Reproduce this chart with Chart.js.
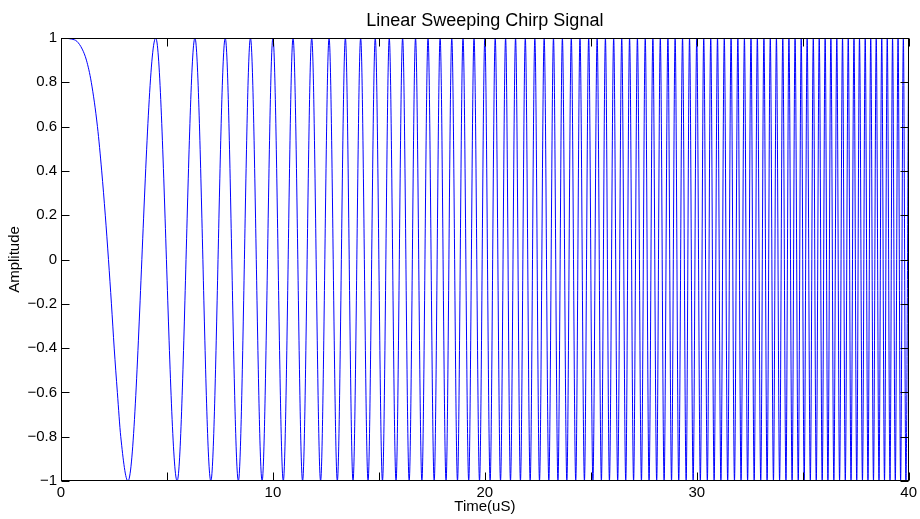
<!DOCTYPE html>
<html>
<head>
<meta charset="utf-8">
<title>Linear Sweeping Chirp Signal</title>
<script src="https://cdn.jsdelivr.net/npm/chart.js@4.4.1/dist/chart.umd.min.js"></script>
<style>
  html, body { margin: 0; padding: 0; background: #ffffff; }
  #wrap { width: 920px; height: 519px; }
</style>
</head>
<body>
<div id="wrap"><canvas id="chirp" width="920" height="519"></canvas></div>
<script>
// Sample times (µs): the slow first lobe is sampled at several levels,
// after that every crest and trough of the sweep is listed.
const sampleTimes = [
  0.00, 0.50, 0.75, 1.00, 1.20, 1.43, 1.72, 1.92, 2.09, 2.24, 2.38, 2.51, 2.66, 2.82,
  3.16, 4.47, 5.48, 6.32, 7.07, 7.75, 8.37, 8.94, 9.49,
  10.00, 10.49, 10.95, 11.40, 11.83, 12.25, 12.65, 13.04, 13.42, 13.78,
  14.14, 14.49, 14.83, 15.17, 15.49, 15.81, 16.12, 16.43, 16.73, 17.03,
  17.32, 17.61, 17.89, 18.17, 18.44, 18.71, 18.97, 19.24, 19.49, 19.75,
  20.00, 20.25, 20.49, 20.74, 20.98, 21.21, 21.45, 21.68, 21.91, 22.14,
  22.36, 22.58, 22.80, 23.02, 23.24, 23.45, 23.66, 23.87, 24.08, 24.29,
  24.49, 24.70, 24.90, 25.10, 25.30, 25.50, 25.69, 25.88, 26.08, 26.27,
  26.46, 26.65, 26.83, 27.02, 27.20, 27.39, 27.57, 27.75, 27.93, 28.11,
  28.28, 28.46, 28.64, 28.81, 28.98, 29.15, 29.33, 29.50, 29.66, 29.83,
  30.00, 30.17, 30.33, 30.50, 30.66, 30.82, 30.98, 31.14, 31.30, 31.46,
  31.62, 31.78, 31.94, 32.09, 32.25, 32.40, 32.56, 32.71, 32.86, 33.02,
  33.17, 33.32, 33.47, 33.62, 33.76, 33.91, 34.06, 34.21, 34.35, 34.50,
  34.64, 34.79, 34.93, 35.07, 35.21, 35.36, 35.50, 35.64, 35.78, 35.92,
  36.06, 36.19, 36.33, 36.47, 36.61, 36.74, 36.88, 37.01, 37.15, 37.28,
  37.42, 37.55, 37.68, 37.82, 37.95, 38.08, 38.21, 38.34, 38.47, 38.60,
  38.73, 38.86, 38.99, 39.12, 39.24, 39.37, 39.50, 39.62, 39.75, 39.87,
  40.00
];

// Amplitude at each sample time.
const sampleAmplitudes = [
  1.00, 0.995, 0.985, 0.95, 0.90, 0.80, 0.60, 0.40, 0.20, 0.00, -0.20, -0.40, -0.60, -0.80,
  -1, 1, -1, 1, -1, 1, -1, 1, -1,
  1, -1, 1, -1, 1, -1, 1, -1, 1, -1,
  1, -1, 1, -1, 1, -1, 1, -1, 1, -1,
  1, -1, 1, -1, 1, -1, 1, -1, 1, -1,
  1, -1, 1, -1, 1, -1, 1, -1, 1, -1,
  1, -1, 1, -1, 1, -1, 1, -1, 1, -1,
  1, -1, 1, -1, 1, -1, 1, -1, 1, -1,
  1, -1, 1, -1, 1, -1, 1, -1, 1, -1,
  1, -1, 1, -1, 1, -1, 1, -1, 1, -1,
  1, -1, 1, -1, 1, -1, 1, -1, 1, -1,
  1, -1, 1, -1, 1, -1, 1, -1, 1, -1,
  1, -1, 1, -1, 1, -1, 1, -1, 1, -1,
  1, -1, 1, -1, 1, -1, 1, -1, 1, -1,
  1, -1, 1, -1, 1, -1, 1, -1, 1, -1,
  1, -1, 1, -1, 1, -1, 1, -1, 1, -1,
  1, -1, 1, -1, 1, -1, 1, -1, 1, -1,
  1
];

// Axis ranges and tick spacing.
const timeRange = [0, 40];
const timeTickStep = 5;       // tick marks every 5 µs
const timeLabelStep = 10;     // labels every 10 µs
const amplitudeRange = [-1, 1];
const amplitudeTickStep = 0.2;

const chartTitle = 'Linear Sweeping Chirp Signal';
const xAxisTitle = 'Time(uS)';
const yAxisTitle = 'Amplitude';

const FONT = '"Liberation Sans", Arial, Helvetica, sans-serif';
Chart.defaults.color = '#000000';
Chart.defaults.font.family = FONT;

const chirpPoints = sampleTimes.map((t, i) => ({ x: t, y: sampleAmplitudes[i] }));

function amplitudeLabel(value) {
  const v = Math.round(value * 10) / 10;
  if (v === 0) return '0';
  const mag = Math.abs(v) === 1 ? '1' : Math.abs(v).toFixed(1);
  return (v < 0 ? '\u2212' : '') + mag;
}

// Box round the plot area with inward tick marks on all four sides.
const axesFrame = {
  id: 'axesFrame',
  afterDatasetsDraw(chart) {
    const { ctx, chartArea: a, scales: { x, y } } = chart;
    const L = Math.round(a.left) + 0.5;
    const R = Math.round(a.right) - 0.5;
    const T = Math.round(a.top) + 0.5;
    const B = Math.round(a.bottom) - 0.5;
    const len = 8;
    ctx.save();
    ctx.strokeStyle = '#000000';
    ctx.lineWidth = 1;
    ctx.beginPath();
    x.ticks.forEach(tk => {
      const px = Math.round(x.getPixelForValue(tk.value)) + 0.5;
      ctx.moveTo(px, B); ctx.lineTo(px, B - len);
      ctx.moveTo(px, T); ctx.lineTo(px, T + len);
    });
    y.ticks.forEach(tk => {
      const py = Math.round(y.getPixelForValue(tk.value)) + 0.5;
      ctx.moveTo(L, py); ctx.lineTo(L + len, py);
      ctx.moveTo(R, py); ctx.lineTo(R - len, py);
    });
    ctx.stroke();
    ctx.strokeRect(L, T, R - L, B - T);
    ctx.restore();
  }
};

new Chart(document.getElementById('chirp'), {
  type: 'line',
  data: {
    datasets: [{
      data: chirpPoints,
      borderColor: '#0000ff',
      borderWidth: 1,
      pointRadius: 0,
      fill: false,
      cubicInterpolationMode: 'monotone'
    }]
  },
  options: {
    responsive: false,
    animation: false,
    events: [],
    layout: { padding: { left: 0, right: 10, top: 0, bottom: 0 } },
    plugins: {
      legend: { display: false },
      tooltip: { enabled: false },
      title: {
        display: true,
        fullSize: false,
        text: chartTitle,
        color: '#000000',
        font: { family: FONT, size: 18, weight: 'normal', lineHeight: '20px' },
        padding: { top: 11, bottom: 7 }
      }
    },
    scales: {
      x: {
        type: 'linear',
        min: timeRange[0],
        max: timeRange[1],
        grid: { display: false, drawTicks: false, tickLength: 0 },
        border: { display: false },
        ticks: {
          stepSize: timeTickStep,
          autoSkip: false,
          maxRotation: 0,
          padding: 3,
          font: { family: FONT, size: 15 },
          callback: v => (v % timeLabelStep === 0 ? String(v) : '')
        },
        title: {
          display: true,
          text: xAxisTitle,
          font: { family: FONT, size: 15 },
          padding: { top: 0, bottom: 3 }
        },
        afterFit: s => { s.height = 38; }
      },
      y: {
        type: 'linear',
        min: amplitudeRange[0],
        max: amplitudeRange[1],
        grid: { display: false, drawTicks: false, tickLength: 0 },
        border: { display: false },
        ticks: {
          stepSize: amplitudeTickStep,
          autoSkip: false,
          padding: 4,
          font: { family: FONT, size: 15 },
          callback: amplitudeLabel
        },
        title: {
          display: true,
          text: yAxisTitle,
          font: { family: FONT, size: 15 },
          padding: { top: 6, bottom: 0 }
        },
        afterFit: s => { s.width = 61; }
      }
    }
  },
  plugins: [axesFrame]
});
</script>
</body>
</html>
